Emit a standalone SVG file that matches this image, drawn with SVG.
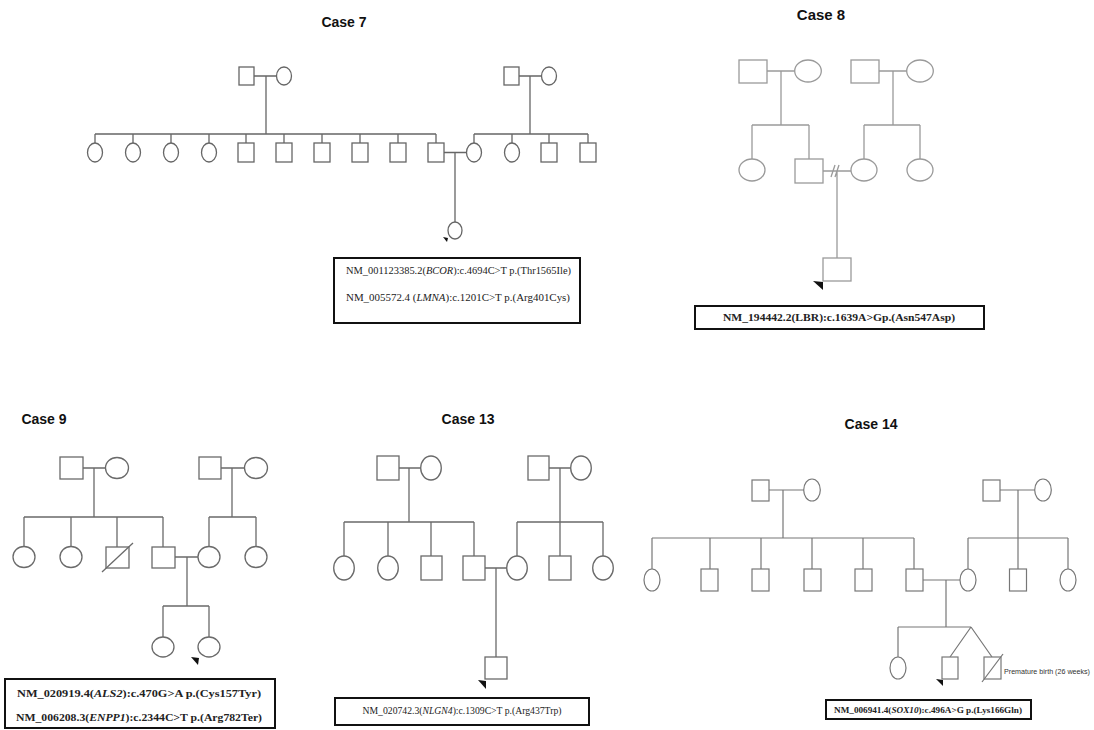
<svg xmlns="http://www.w3.org/2000/svg" width="1094" height="730" viewBox="0 0 1094 730">
<style>
.t{font-family:"Liberation Sans",Arial,sans-serif;font-weight:bold;fill:#111;text-anchor:middle}
.g7{stroke:#666;stroke-width:1.3;fill:none}
.g8{stroke:#9a9a9a;stroke-width:1.3;fill:none}
.g9{stroke:#6a6a6a;stroke-width:1.3;fill:none}
.g14{stroke:#777;stroke-width:1.2;fill:none}
.s7{stroke:#666;stroke-width:1.3;fill:#fff}
.s8{stroke:#9a9a9a;stroke-width:1.3;fill:#fff}
.s9{stroke:#6a6a6a;stroke-width:1.3;fill:#fff}
.s14{stroke:#777;stroke-width:1.2;fill:#fff}
.box{fill:#fff;stroke:#111;stroke-width:2}
.v{font-family:"Liberation Serif","Times New Roman",serif;font-size:10.5px;fill:#222}
.vb{font-family:"Liberation Serif","Times New Roman",serif;font-size:10.5px;font-weight:bold;fill:#222}
.arr{fill:#111}
</style>
<rect width="1094" height="730" fill="#fff"/>

<!-- Case 7 -->
<g id="case7">
<text class="t" x="344" y="27" font-size="14">Case 7</text>
<g id="c7-connectors" class="g7">
<path d="M254,76H277M266,76V134M95,134H436M95,134V143M133,134V143M171,134V143M209,134V143M246,134V143M284,134V143M322,134V143M360,134V143M398,134V143M436,134V143"/>
<path d="M519,76H542M530,76V134M474,134H588M474,134V143M512,134V143M549,134V143M588,134V143"/>
<path d="M444,152.5H467M455,152.5V222"/>
</g>
<g id="c7-nodes" class="s7">
<rect x="239" y="67" width="15" height="18"/><ellipse cx="284" cy="76" rx="7.5" ry="9"/>
<rect x="504" y="67" width="15" height="18"/><ellipse cx="549" cy="76" rx="7.5" ry="9"/>
<ellipse cx="95" cy="152.5" rx="7.5" ry="9.5"/><ellipse cx="133" cy="152.5" rx="7.5" ry="9.5"/><ellipse cx="171" cy="152.5" rx="7.5" ry="9.5"/><ellipse cx="209" cy="152.5" rx="7.5" ry="9.5"/>
<rect x="238" y="143" width="16" height="19"/><rect x="276" y="143" width="16" height="19"/><rect x="314" y="143" width="16" height="19"/><rect x="352" y="143" width="16" height="19"/><rect x="390" y="143" width="16" height="19"/><rect x="428" y="143" width="16" height="19"/>
<ellipse cx="474" cy="152.5" rx="7.5" ry="9.5"/><ellipse cx="512" cy="152.5" rx="7.5" ry="9.5"/>
<rect x="541" y="143" width="16" height="19"/><rect x="580" y="143" width="16" height="19"/>
<ellipse cx="455" cy="230.5" rx="7" ry="8.5"/>
</g>
<polygon class="arr" points="443,237 448,238 447,242"/>
<rect class="box" x="334" y="258" width="246" height="65"/>
<text class="v" x="346" y="274" textLength="225" lengthAdjust="spacingAndGlyphs">NM_001123385.2(<tspan font-style="italic">BCOR</tspan>):c.4694C&gt;T p.(Thr1565Ile)</text>
<text class="v" x="346" y="301" textLength="224" lengthAdjust="spacingAndGlyphs">NM_005572.4 (<tspan font-style="italic">LMNA</tspan>):c.1201C&gt;T p.(Arg401Cys)</text>
</g>

<!-- Case 8 -->
<g id="case8">
<text class="t" x="821" y="20" font-size="15">Case 8</text>
<g id="c8-connectors" class="g8">
<path d="M767,71H795M781,71V125M752,125H809M752,125V159M809,125V159"/>
<path d="M879,71H907M893,71V125M864,125H920M864,125V159M920,125V159"/>
<path d="M823,171H851M837,171V258M831,177L835,165M835,177L839,165"/>
</g>
<g id="c8-nodes" class="s8">
<rect x="739" y="60" width="28" height="23"/><ellipse cx="808" cy="71" rx="13.3" ry="11"/>
<rect x="851" y="60" width="28" height="23"/><ellipse cx="920" cy="71" rx="13.3" ry="11"/>
<ellipse cx="752" cy="170" rx="13" ry="11"/><rect x="795" y="159" width="28" height="24"/>
<ellipse cx="864" cy="170" rx="13" ry="11"/><ellipse cx="920" cy="170" rx="13" ry="11"/>
<rect x="823" y="258" width="28" height="23"/>
</g>
<polygon class="arr" points="813,281 823,282 823,290"/>
<rect class="box" x="695" y="306" width="289" height="23" stroke-width="2.5"/>
<text class="vb" x="839" y="321" text-anchor="middle" textLength="232" lengthAdjust="spacingAndGlyphs">NM_194442.2(LBR):c.1639A&gt;Gp.(Asn547Asp)</text>
</g>

<!-- Case 9 -->
<g id="case9">
<text class="t" x="44" y="424" font-size="14">Case 9</text>
<g id="c9-connectors" class="g9">
<path d="M83,468H106M94,468V517M24,517H163M24,517V547M71,517V547M117,517V547M163,517V547"/>
<path d="M221,468H245M232,468V517M209,517H256M209,517V547M256,517V547"/>
<path d="M175,557H198M187,557V606M163,606H209M163,606V637M209,606V637"/>
</g>
<g id="c9-nodes" class="s9">
<rect x="60" y="457" width="23" height="22"/><ellipse cx="117" cy="468" rx="11.5" ry="10.5"/>
<rect x="199" y="457" width="22" height="22"/><ellipse cx="256" cy="468" rx="11.5" ry="10.5"/>
<ellipse cx="24" cy="557" rx="11" ry="10.5"/><ellipse cx="71" cy="557" rx="11" ry="10.5"/>
<rect x="106" y="547" width="23" height="21"/><line x1="102" y1="572" x2="133" y2="543"/>
<rect x="152" y="547" width="23" height="21"/>
<ellipse cx="209" cy="557" rx="11" ry="10.5"/><ellipse cx="256" cy="557" rx="11" ry="10.5"/>
<ellipse cx="163" cy="647" rx="11" ry="10"/><ellipse cx="209" cy="647" rx="11" ry="10"/>
</g>
<polygon class="arr" points="191,657 199,658 198,665"/>
<rect class="box" x="5" y="679" width="270" height="49"/>
<text class="vb" x="139" y="697" text-anchor="middle" textLength="244" lengthAdjust="spacingAndGlyphs">NM_020919.4(<tspan font-style="italic">ALS2</tspan>):c.470G&gt;A p.(Cys157Tyr)</text>
<text class="vb" x="139" y="721" text-anchor="middle" textLength="246" lengthAdjust="spacingAndGlyphs">NM_006208.3(<tspan font-style="italic">ENPP1</tspan>):c.2344C&gt;T p.(Arg782Ter)</text>
</g>

<!-- Case 13 -->
<g id="case13">
<text class="t" x="468" y="424" font-size="14">Case 13</text>
<g id="c13-connectors" class="g9">
<path d="M399,468H421M409,468V522M344,522H474M344,522V556M388,522V556M431,522V556M474,522V556"/>
<path d="M549,468H571M560,468V522M517,522H603M517,522V556M560,522V556M603,522V556"/>
<path d="M485,568H507M496,568V657"/>
</g>
<g id="c13-nodes" class="s9">
<rect x="377" y="456" width="22" height="24"/><ellipse cx="431" cy="468" rx="10.3" ry="12"/>
<rect x="528" y="456" width="21" height="24"/><ellipse cx="581" cy="468" rx="10.3" ry="12"/>
<ellipse cx="344" cy="568" rx="10.3" ry="12"/><ellipse cx="388" cy="568" rx="10.3" ry="12"/>
<rect x="421" y="556" width="21" height="24"/><rect x="463" y="556" width="22" height="24"/>
<ellipse cx="517" cy="568" rx="10.3" ry="12"/><rect x="549" y="556" width="22" height="24"/><ellipse cx="603" cy="568" rx="10.3" ry="12"/>
<rect x="485" y="657" width="22" height="22"/>
</g>
<polygon class="arr" points="478,680 486,681 486,689"/>
<rect class="box" x="335" y="698" width="254" height="27"/>
<text class="v" x="462" y="714" text-anchor="middle" font-size="9.5" style="font-size:9.5px" textLength="199" lengthAdjust="spacingAndGlyphs">NM_020742.3(<tspan font-style="italic">NLGN4</tspan>):c.1309C&gt;T p.(Arg437Trp)</text>
</g>

<!-- Case 14 -->
<g id="case14">
<text class="t" x="871" y="429" font-size="14">Case 14</text>
<g id="c14-connectors" class="g14">
<path d="M769,490H804M783,490V538M652,538H914M652,538V569M710,538V569M761,538V569M812,538V569M863,538V569M914,538V569"/>
<path d="M1000,490H1035M1018,490V538M968,538H1068M968,538V569M1018,538V569M1068,538V569"/>
<path d="M923,580H960M946,580V627M898,627H971M898,627V657M971,627L950,657M971,627L992,657"/>
</g>
<g id="c14-nodes" class="s14">
<rect x="752" y="480" width="17" height="21"/><ellipse cx="812" cy="490" rx="8.3" ry="11"/>
<rect x="983" y="480" width="17" height="21"/><ellipse cx="1043" cy="490" rx="8.3" ry="11"/>
<ellipse cx="652" cy="580" rx="8" ry="11"/>
<rect x="701" y="569" width="17" height="22"/><rect x="752" y="569" width="17" height="22"/><rect x="804" y="569" width="17" height="22"/><rect x="855" y="569" width="17" height="22"/><rect x="906" y="569" width="17" height="22"/>
<ellipse cx="968" cy="580" rx="8" ry="11"/><rect x="1009.5" y="569" width="17" height="22"/><ellipse cx="1068" cy="580" rx="8" ry="11"/>
<ellipse cx="898" cy="668" rx="8" ry="11"/>
<rect x="942" y="657" width="16" height="22"/>
<rect x="984" y="657" width="17" height="22"/><line x1="982" y1="682" x2="1003" y2="654"/>
</g>
<polygon class="arr" points="936,679 943,680 943,686"/>
<text x="1004" y="674" font-family="Liberation Sans,Arial,sans-serif" font-size="7.5" fill="#333" textLength="86" lengthAdjust="spacingAndGlyphs">Premature birth (26 weeks)</text>
<rect class="box" x="826" y="700" width="205" height="19"/>
<text class="vb" x="928" y="713" text-anchor="middle" style="font-size:9px" textLength="188" lengthAdjust="spacingAndGlyphs">NM_006941.4(<tspan font-style="italic">SOX10</tspan>):c.496A&gt;G p.(Lys166Gln)</text>
</g>
</svg>
